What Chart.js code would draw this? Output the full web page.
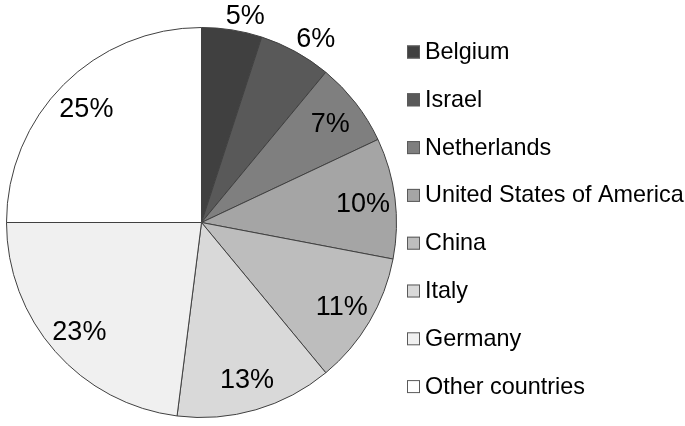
<!DOCTYPE html>
<html>
<head>
<meta charset="utf-8">
<script src="https://cdn.jsdelivr.net/npm/chart.js@4"></script>
<style>
  html, body { margin: 0; padding: 0; background: #fff; }
  #wrap { width: 685px; height: 426px; position: relative; }
</style>
</head>
<body>
<div id="wrap"><canvas id="pie"></canvas></div>
<script>
// share of each country, in percent, clockwise from 12 o'clock
const countries = ['Belgium', 'Israel', 'Netherlands', 'United States of America', 'China', 'Italy', 'Germany', 'Other countries'];
const shares = [5, 6, 7, 10, 11, 13, 23, 25];
const greys = ['#404040', '#595959', '#7f7f7f', '#a5a5a5', '#bdbdbd', '#d9d9d9', '#f0f0f0', '#ffffff'];

const FONT = '"Liberation Sans", Arial, sans-serif';

//percent labels, small slices get theirs outside the pie
const pctLabels = {
    id: 'pctLabels',
    afterDatasetsDraw(chart) {
        const ctx = chart.ctx;
        const arcs = chart.getDatasetMeta(0).data;
        ctx.save();
        ctx.font = '27px ' + FONT;
        ctx.fillStyle = '#000';
        ctx.textAlign = 'center';
        ctx.textBaseline = 'middle';
        arcs.forEach((arc, i) => {
            const p = arc.getProps(['x', 'y', 'startAngle', 'endAngle', 'outerRadius'], true);
            let a = (p.startAngle + p.endAngle) / 2;
            const txt = shares[i] + '%';
            const w = ctx.measureText(txt).width;
            const h = 20;
            let r;
            if (shares[i] <= 6) { //outside, nearest edge of text a few px off the rim
                a += 0.05;
                const ext = Math.abs(w / 2 * Math.cos(a)) + Math.abs(h / 2 * Math.sin(a));
                r = p.outerRadius + 4 + ext;
            } else {
                r = p.outerRadius * 0.835;
            }
            ctx.fillText(txt, p.x + r * Math.cos(a), p.y + r * Math.sin(a) + 2);
        });
        ctx.restore();
    }
};

//legend drawn by hand so the rows line up with the picture
const sideLegend = {
    id: 'sideLegend',
    afterDraw(chart) {
        const ctx = chart.ctx;
        const ds = chart.data.datasets[0];
        ctx.save();
        ctx.font = '23.4px ' + FONT;
        ctx.textBaseline = 'middle';
        chart.data.labels.forEach((lab, i) => {
            const y = 51.5 + i * 47.8;
            ctx.fillStyle = ds.backgroundColor[i];
            ctx.fillRect(407, y - 6, 13, 13);
            ctx.strokeStyle = '#5a5a5a';
            ctx.lineWidth = 1;
            ctx.strokeRect(407.5, y - 5.5, 12, 12);
            ctx.fillStyle = '#000';
            ctx.fillText(lab, 425, y + 1);
        });
        ctx.restore();
    }
};

new Chart(document.getElementById('pie').getContext('2d'), {
    type: 'pie',
    data: {
        labels: countries,
        datasets: [{
            data: shares,
            backgroundColor: greys,
            borderColor: '#404040',
            borderWidth: 1
        }]
    },
    options: {
        responsive: true,
        maintainAspectRatio: false,
        animation: false,
        layout: {
            padding: { left: 6, top: 27, right: 288, bottom: 8 }
        },
        plugins: {
            legend: { display: false },
            tooltip: { enabled: false }
        }
    },
    plugins: [pctLabels, sideLegend]
});
</script>
</body>
</html>
